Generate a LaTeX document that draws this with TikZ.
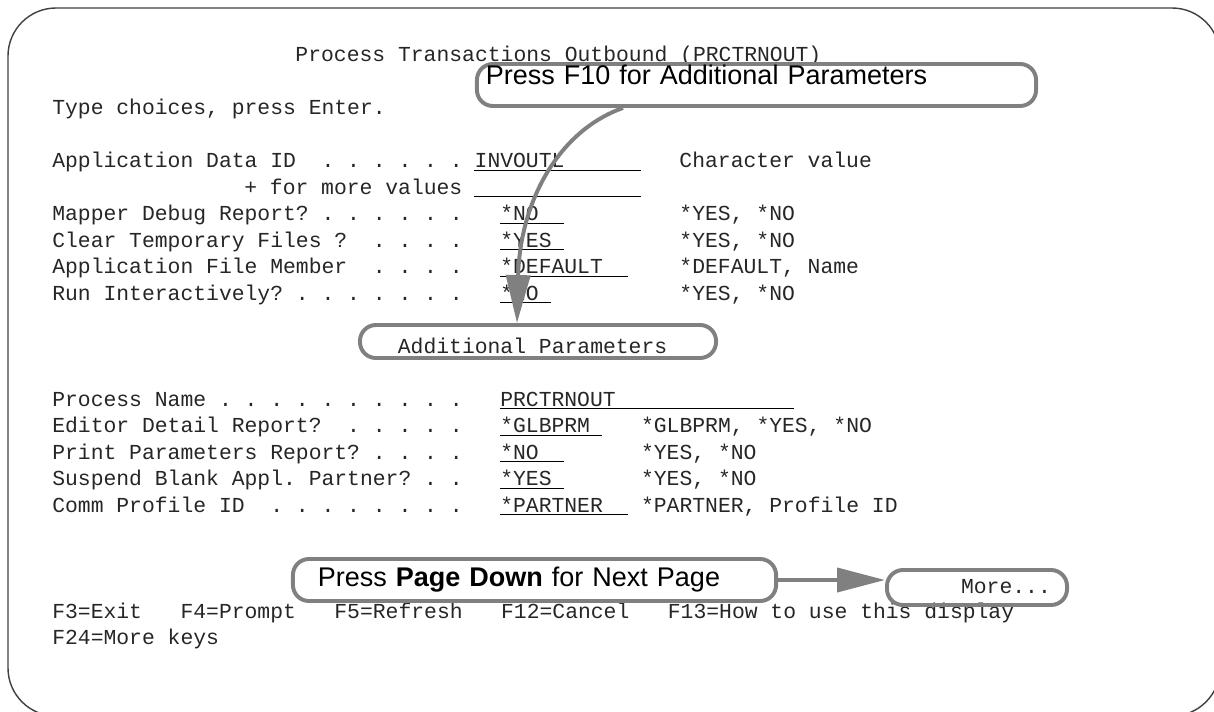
\documentclass[tikz,border=0pt]{standalone}
\usepackage{fontspec}
\setmainfont{Liberation Sans}
\setmonofont{Liberation Mono}
\usetikzlibrary{arrows.meta}

\tikzset{
  scr/.style={anchor=base west, inner sep=0pt, text=black!85, font=\ttfamily\fontsize{15.2}{18}\selectfont},
  fld/.style={black, line width=0.6pt},
  ring/.style={draw=black!50, line width=2.8pt, rounded corners=0.4cm, inner sep=0pt},
  callout/.style={ring, font=\fontsize{19.2}{23}\selectfont, align=left},
  callarrow/.style={draw=black!50, line width=2.8pt, -{Triangle[length=1.2cm,width=0.6cm]}},
}

\begin{document}
\begin{tikzpicture}[x=0.025cm,y=-0.025cm]
\useasboundingbox (0,0) rectangle (1214,711);
\clip (0,0) rectangle (1214,711);
%\draw[step=50,gray,very thin] (0,0) grid (1214,711); %background grid
\draw[black!75, line width=1pt, rounded corners=1.2cm] (8,8) rectangle (1220,716);

% screen text
\node[scr] (title) at (295.2,61.5) {Process Transactions Outbound (PRCTRNOUT)};
\node[scr] (hint) at (52,114.5) {Type choices, press Enter.};

\node[scr] (appid) at (52,167.5) {Application Data ID~~. . . . . .};
\node[scr] (appidv) at (474.4,167.5) {INVOUTL};
\node[scr] (appidc) at (679.2,167.5) {Character value};
\node[scr] (more) at (244,194) {+ for more values};
\node[scr] (mapper) at (52,220.5) {Mapper Debug Report? . . . . . .};
\node[scr] (mapperv) at (500,220.5) {*NO};
\node[scr] (mapperc) at (679.2,220.5) {*YES, *NO};
\node[scr] (clear) at (52,247) {Clear Temporary Files ?~~. . . .};
\node[scr] (clearv) at (500,247) {*YES};
\node[scr] (clearc) at (679.2,247) {*YES, *NO};
\node[scr] (member) at (52,273.5) {Application File Member~~. . . .};
\node[scr] (memberv) at (500,273.5) {*DEFAULT};
\node[scr] (memberc) at (679.2,273.5) {*DEFAULT, Name};
\node[scr] (inter) at (52,300) {Run Interactively? . . . . . . .};
\node[scr] (interv) at (500,300) {*NO};
\node[scr] (interc) at (679.2,300) {*YES, *NO};

\node[scr] (addtxt) at (397.6,353) {Additional Parameters};

\node[scr] (pname) at (52,406) {Process Name . . . . . . . . . .};
\node[scr] (pnamev) at (500,406) {PRCTRNOUT};
\node[scr] (editor) at (52,432.5) {Editor Detail Report?~~. . . . .};
\node[scr] (editorv) at (500,432.5) {*GLBPRM};
\node[scr] (editorc) at (640.8,432.5) {*GLBPRM, *YES, *NO};
\node[scr] (print) at (52,459) {Print Parameters Report? . . . .};
\node[scr] (printv) at (500,459) {*NO};
\node[scr] (printc) at (640.8,459) {*YES, *NO};
\node[scr] (susp) at (52,485.5) {Suspend Blank Appl. Partner? . .};
\node[scr] (suspv) at (500,485.5) {*YES};
\node[scr] (suspc) at (640.8,485.5) {*YES, *NO};
\node[scr] (comm) at (52,512) {Comm Profile ID~~. . . . . . . .};
\node[scr] (commv) at (500,512) {*PARTNER};
\node[scr] (commc) at (640.8,512) {*PARTNER, Profile ID};

\node[scr] (moretxt) at (960.8,593) {More...};
\node[scr] (fkeys) at (52,618) {F3=Exit~~~F4=Prompt~~~F5=Refresh~~~F12=Cancel~~~F13=How to use this display};
\node[scr] (fkeys2) at (52,644.5) {F24=More keys};

% input fields
\draw[fld] (474.4,170) -- (640.8,170);
\draw[fld] (474.4,196.5) -- (640.8,196.5);
\draw[fld] (500,223) -- (564,223);
\draw[fld] (500,249.5) -- (564,249.5);
\draw[fld] (500,276) -- (628,276);
\draw[fld] (500,302.5) -- (551.2,302.5);
\draw[fld] (500,408.5) -- (794.4,408.5);
\draw[fld] (500,435) -- (602.4,435);
\draw[fld] (500,461.5) -- (564,461.5);
\draw[fld] (500,488) -- (564,488);
\draw[fld] (500,514.5) -- (628,514.5);

% callouts
\node[callout, text width=13.525cm, inner xsep=0.225cm, text height=0.5cm, text depth=0.55cm] (f10box) at (756.5,85) {Press F10 for Additional Parameters};
\node[ring, minimum width=8.9cm, minimum height=0.825cm] (addbox) at (538,341.5) {};
\node[callout, text width=10.825cm, inner xsep=0.625cm, text height=0.675cm, text depth=0.375cm] (pgbox) at (534.5,580) {Press \textbf{Page Down} for Next Page};
\node[ring, minimum width=4.5cm, minimum height=0.875cm] (morebox) at (977,587.5) {};

\draw[callarrow] ([xshift=-3.3375cm]f10box.south) .. controls +(-63,22) and +(3,-123) .. ([xshift=-0.525cm]addbox.north);
\draw[callarrow] (pgbox.east) -- (pgbox.east -| morebox.west);
\end{tikzpicture}
\end{document}
